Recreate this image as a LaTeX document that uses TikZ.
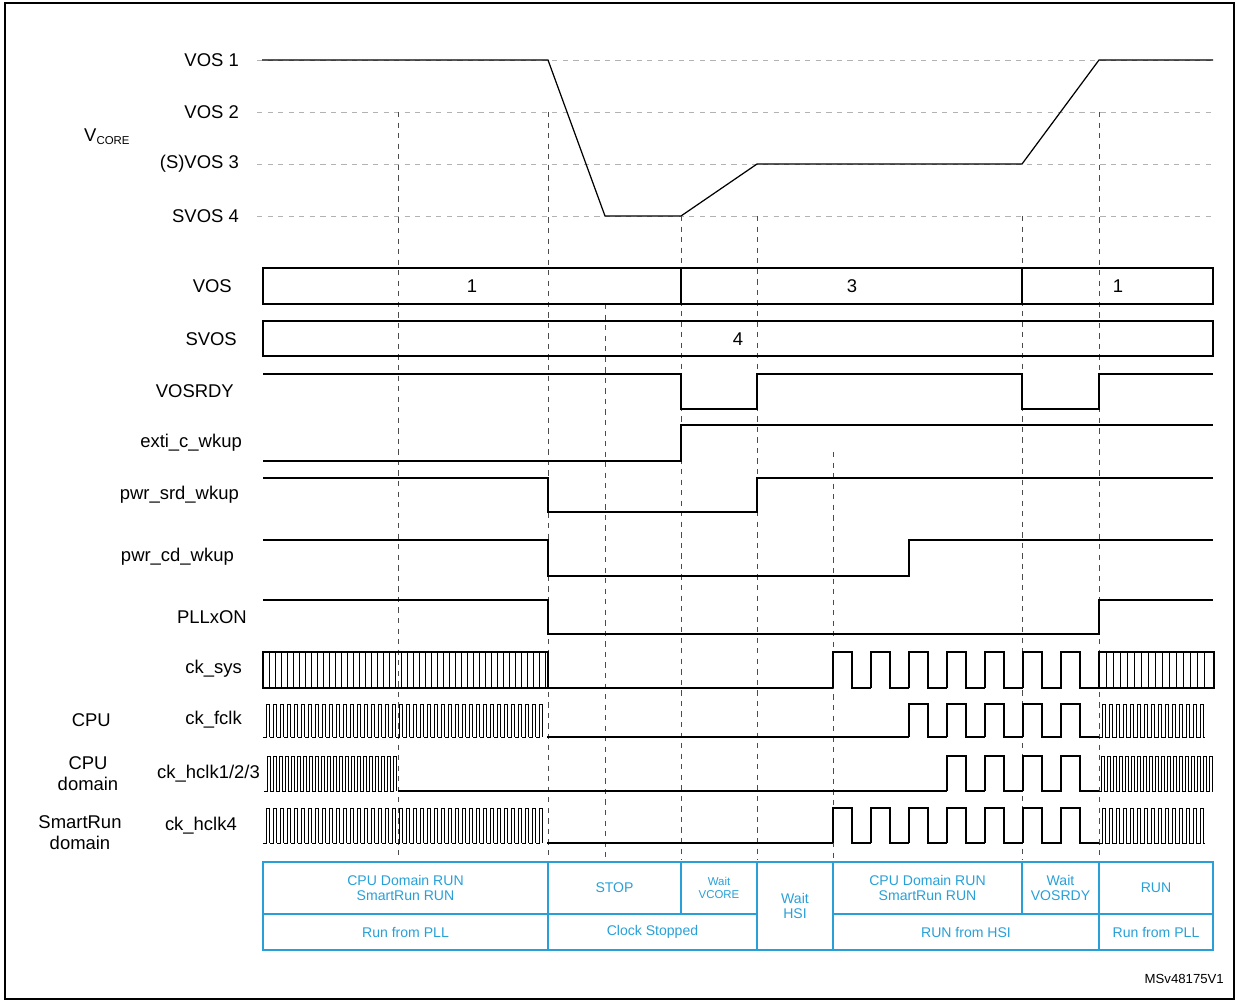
\documentclass[tikz,border=0pt]{standalone}
\usepackage{fontspec}
\setmainfont{Liberation Sans}
\definecolor{tblue}{RGB}{40,160,215}
\begin{document}
\begin{tikzpicture}[x=0.02cm,y=-0.02cm]
\tikzset{ >=latex, sig/.style={line width=0.7pt}, grid/.style={gray!60, dashed, line width=0.5pt},
  vdash/.style={black!70, dashed, line width=0.5pt},
  lbl/.style={font=\fontsize{10.5}{12}\selectfont, anchor=east},
  cell/.style={draw=tblue, line width=0.7pt, text=tblue, font=\fontsize{8}{9}\selectfont, align=center, inner sep=0pt} }

\useasboundingbox (0,0) rectangle (1237,1001);
\draw[line width=0.6pt] (5,3) rectangle (1234,999);

%%% VCORE

\node[lbl] (vos1) at (245,60) {VOS 1};
\node[lbl] (vos2) at (245,112) {VOS 2};
\node[lbl] (vos3) at (245,164) {(S)VOS 3};
\node[lbl] (svos4) at (245,216) {SVOS 4};
\node[lbl, anchor=west] (vcore) at (78,137) {V\textsubscript{\fontsize{6.5}{6}\selectfont CORE}};
\foreach \n in {vos1,vos2,vos3,svos4}
  \draw[grid] (\n.east) ++(12,0) -- (1213,0 |- \n.east);
\draw[sig] (262,60) -- (548,60) -- (605,216) -- (681,216) -- (757,164) -- (1022,164) -- (1099,60) -- (1213,60);

%%% Lignes verticales
\draw[vdash] (398,112) -- (398,860);
\draw[vdash] (548,112) -- (548,860);
\draw[vdash] (605,304) -- (605,860);
\draw[vdash] (681,216) -- (681,860);
\draw[vdash] (757,216) -- (757,860);
\draw[vdash] (833,452) -- (833,860);
\draw[vdash] (1022,216) -- (1022,860);
\draw[vdash] (1099,112) -- (1099,860);

%%% Registres
\node[lbl] (vos) at (238,286) {VOS};
\draw[sig] (263,268) rectangle (681,304);
\draw[sig] (681,268) rectangle (1022,304);
\draw[sig] (1022,268) rectangle (1213,304);
\node[lbl, anchor=center] (vosA) at (472,286) {1};
\node[lbl, anchor=center] (vosB) at (852,286) {3};
\node[lbl, anchor=center] (vosC) at (1118,286) {1};

\node[lbl] (svos) at (243,339) {SVOS};
\draw[sig] (263,321) rectangle (1213,356);
\node[lbl, anchor=center] (svosA) at (738,339) {4};

%%% Signaux
\node[lbl] (vosrdy) at (240,391) {VOSRDY};
\draw[sig] (263,374) -- (681,374) -- (681,409) -- (757,409) -- (757,374) -- (1022,374) -- (1022,409) -- (1099,409) -- (1099,374) -- (1213,374);

\node[lbl] (exti) at (248,443) {exti\_c\_wkup};
\draw[sig] (263,461) -- (681,461) -- (681,425) -- (1213,425);

\node[lbl] (srd) at (245,495) {pwr\_srd\_wkup};
\draw[sig] (263,478) -- (548,478) -- (548,512) -- (757,512) -- (757,478) -- (1213,478);

\node[lbl] (cd) at (240,557) {pwr\_cd\_wkup};
\draw[sig] (263,540) -- (548,540) -- (548,576) -- (909,576) -- (909,540) -- (1213,540);

\node[lbl] (pll) at (253,617) {PLLxON};
\draw[sig] (263,600) -- (548,600) -- (548,634) -- (1099,634) -- (1099,600) -- (1213,600);

%%% Horloges
\node[lbl] (cksys) at (248,669) {ck\_sys};
\draw[sig] (263,652) rectangle (548,688);
\foreach \x in {269,275,...,545} \draw[line width=0.4pt] (\x,652) -- (\x,688);
\draw[sig] (548,688) -- (833,688);
\foreach \x in {833,871,909,947,985} \draw[sig] (\x,688) -- (\x,652) -- (\x+19,652) -- (\x+19,688) -- (\x+38,688);
\draw[sig] (1023,688) -- (1023,652) -- (1042,652) -- (1042,688) -- (1061,688) -- (1061,652) -- (1080,652) -- (1080,688) -- (1099,688);
\draw[sig] (1099,652) rectangle (1214,688);
\foreach \x in {1106,1113,...,1210} \draw[line width=0.4pt] (\x,652) -- (\x,688);

\node[lbl] (fclk) at (248,720) {ck\_fclk};
\node[lbl] (cpu) at (117,720) {CPU};
\foreach \x in {266,273,...,543} \draw[line width=0.45pt] (\x-3,737) -- (\x,737) -- (\x,704) -- (\x+3.5,704) -- (\x+3.5,737);
\draw[sig] (547,737) -- (909,737);
\foreach \x in {909,947,985} \draw[sig] (\x,737) -- (\x,704) -- (\x+19,704) -- (\x+19,737) -- (\x+38,737);
\draw[sig] (1023,737) -- (1023,704) -- (1042,704) -- (1042,737) -- (1061,737) -- (1061,704) -- (1080,704) -- (1080,737) -- (1099,737);
\foreach \x in {1102,1109,...,1206} \draw[line width=0.45pt] (\x-3,737) -- (\x,737) -- (\x,704) -- (\x+3.5,704) -- (\x+3.5,737) -- (\x+4,737);

\node[lbl] (hclk) at (266,774) {ck\_hclk1/2/3};
\node[lbl, anchor=center, align=center] (cpud) at (88,774) {CPU\\domain};
\foreach \x in {267,273,...,393} \draw[line width=0.45pt] (\x-3,791) -- (\x,791) -- (\x,756) -- (\x+3,756) -- (\x+3,791);
\draw[sig] (398,791) -- (947,791);
\foreach \x in {947,985} \draw[sig] (\x,791) -- (\x,756) -- (\x+19,756) -- (\x+19,791) -- (\x+38,791);
\draw[sig] (1023,791) -- (1023,756) -- (1042,756) -- (1042,791) -- (1061,791) -- (1061,756) -- (1080,756) -- (1080,791) -- (1099,791);
\foreach \x in {1101,1107,...,1209} \draw[line width=0.45pt] (\x-2,791) -- (\x,791) -- (\x,756) -- (\x+3,756) -- (\x+3,791) -- (\x+4,791);

\node[lbl] (hclk4) at (243,826) {ck\_hclk4};
\node[lbl, anchor=center, align=center] (srun) at (80,833) {SmartRun\\domain};
\foreach \x in {266,273,...,543} \draw[line width=0.45pt] (\x-3,843) -- (\x,843) -- (\x,808) -- (\x+3.5,808) -- (\x+3.5,843);
\draw[sig] (547,843) -- (833,843);
\foreach \x in {833,871,909,947,985} \draw[sig] (\x,843) -- (\x,808) -- (\x+19,808) -- (\x+19,843) -- (\x+38,843);
\draw[sig] (1023,843) -- (1023,808) -- (1042,808) -- (1042,843) -- (1061,843) -- (1061,808) -- (1080,808) -- (1080,843) -- (1099,843);
\foreach \x in {1102,1109,...,1206} \draw[line width=0.45pt] (\x-3,843) -- (\x,843) -- (\x,808) -- (\x+3.5,808) -- (\x+3.5,843) -- (\x+4,843);

%%% Tableau
\node[cell, minimum width=285*0.02cm, minimum height=52*0.02cm] (t1) at (405.5,888) {CPU Domain RUN\\SmartRun RUN};
\node[cell, minimum width=285*0.02cm, minimum height=36*0.02cm] (t1b) at (405.5,932) {Run from PLL};
\node[cell, minimum width=133*0.02cm, minimum height=52*0.02cm] (t2) at (614.5,888) {STOP};
\node[cell, minimum width=76*0.02cm, minimum height=52*0.02cm, font=\fontsize{6.5}{7}\selectfont] (t3) at (719,888) {Wait\\VCORE};
\node[cell, minimum width=209*0.02cm, minimum height=36*0.02cm] (t23) at (652.5,932) {Clock Stopped};
\node[cell, minimum width=76*0.02cm, minimum height=88*0.02cm] (t4) at (795,906) {Wait\\HSI};
\node[cell, minimum width=189*0.02cm, minimum height=52*0.02cm] (t5) at (927.5,888) {CPU Domain RUN\\SmartRun RUN};
\node[cell, minimum width=77*0.02cm, minimum height=52*0.02cm] (t6) at (1060.5,888) {Wait\\VOSRDY};
\node[cell, minimum width=266*0.02cm, minimum height=36*0.02cm] (t56) at (966,932) {RUN from HSI};
\node[cell, minimum width=114*0.02cm, minimum height=52*0.02cm] (t7) at (1156,888) {RUN};
\node[cell, minimum width=114*0.02cm, minimum height=36*0.02cm] (t7b) at (1156,932) {Run from PLL};

\node[font=\fontsize{7.5}{8}\selectfont, anchor=east] (ref) at (1230,979) {MSv48175V1};
\end{tikzpicture}
\end{document}
